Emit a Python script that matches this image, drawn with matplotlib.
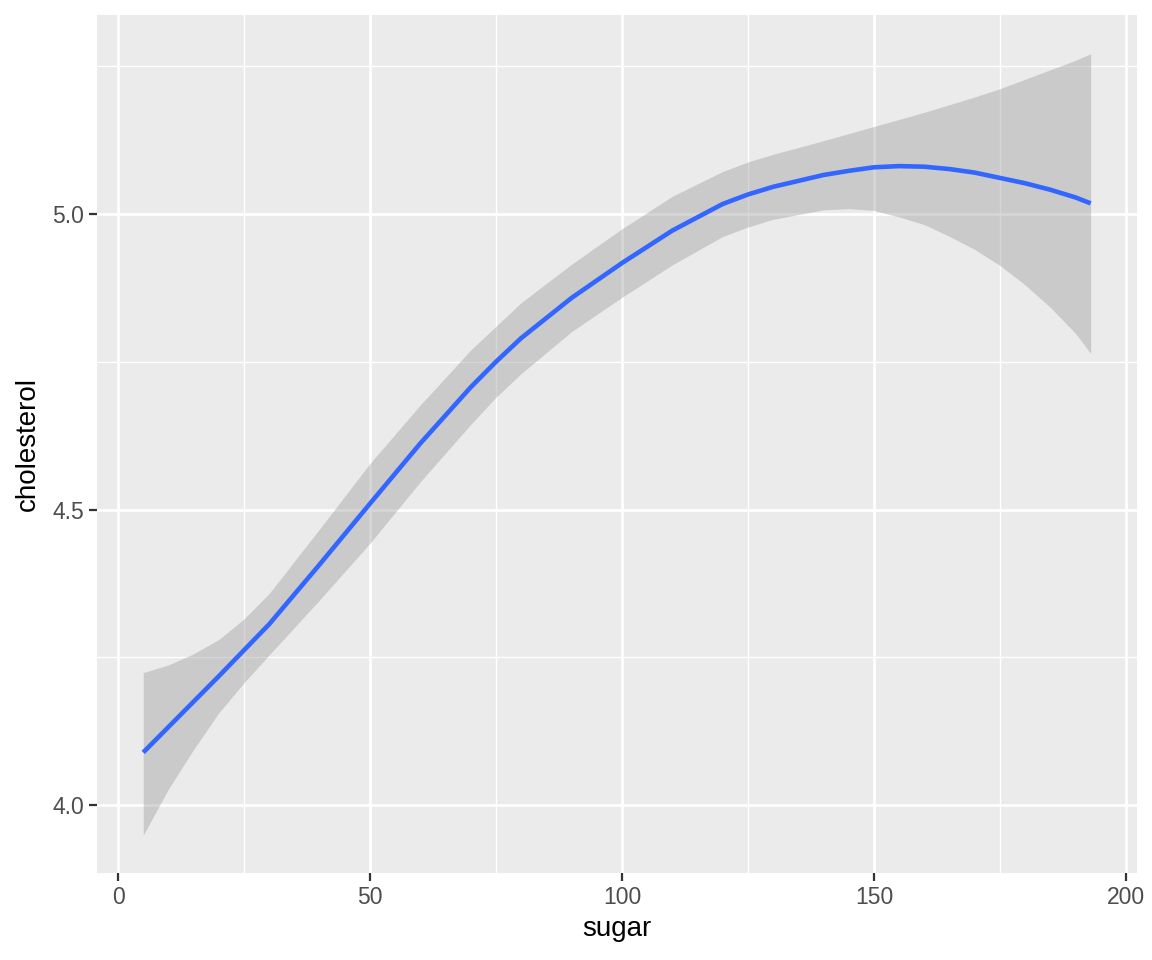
import matplotlib
matplotlib.use("Agg")
import matplotlib.pyplot as plt

plt.rcParams['font.family'] = ['Liberation Sans', 'DejaVu Sans']

# values (loess fit of cholesterol on sugar)
sugar = [5, 10, 15, 20, 25, 30, 40, 50, 60, 70, 75, 80, 90, 100, 110,
         120, 125, 130, 140, 145, 150, 155, 160, 165, 170, 175, 180, 185, 190, 193]
fit = [4.089, 4.132, 4.175, 4.218, 4.262, 4.306, 4.407, 4.510, 4.612, 4.707, 4.750, 4.790,
       4.858, 4.917, 4.972, 5.017, 5.033, 5.046, 5.066, 5.073, 5.079, 5.081, 5.080, 5.076,
       5.070, 5.061, 5.052, 5.041, 5.028, 5.018]
upper = [4.224, 4.237, 4.256, 4.280, 4.315, 4.358, 4.467, 4.578, 4.677, 4.770, 4.810, 4.850,
         4.915, 4.975, 5.030, 5.072, 5.088, 5.101, 5.124, 5.136, 5.148, 5.160, 5.172, 5.185,
         5.198, 5.212, 5.228, 5.244, 5.260, 5.271]
lower = [3.949, 4.027, 4.094, 4.156, 4.207, 4.254, 4.347, 4.443, 4.547, 4.644, 4.690, 4.730,
         4.801, 4.859, 4.914, 4.962, 4.978, 4.991, 5.007, 5.009, 5.006, 4.995, 4.982, 4.962,
         4.940, 4.913, 4.880, 4.842, 4.798, 4.764]

x_ticks = [0, 50, 100, 150, 200]
x_minor = [25, 75, 125, 175]
y_ticks = [4.0, 4.5, 5.0]
y_minor = [4.25, 4.75, 5.25]

fig = plt.figure(figsize=(11.52, 9.6), dpi=100)
ax = fig.add_axes([0.0842, 0.0906, 0.9028, 0.8938])
ax.set_facecolor('#EBEBEB')
for s in ax.spines.values():
    s.set_visible(False)

ax.set_xlim(-4.17, 202.2)
ax.set_ylim(3.885, 5.3367)
ax.set_xticks(x_ticks)
ax.set_xticks(x_minor, minor=True)
ax.set_yticks(y_ticks)
ax.set_yticks(y_minor, minor=True)
ax.set_yticklabels([f"{v:.1f}" for v in y_ticks])

ax.grid(which='major', color='white', linewidth=2.0)
ax.grid(which='minor', color='white', linewidth=1.0)
ax.set_axisbelow(True)

ax.tick_params(which='major', length=5.5, width=1.6, color='#333333',
               labelcolor='#4D4D4D', labelsize=16.5, pad=4)
ax.tick_params(which='minor', length=0)

ax.fill_between(sugar, lower, upper, color='#999999', alpha=0.4, linewidth=0, zorder=2)
ax.plot(sugar, fit, color='#3366FF', linewidth=3.3, zorder=3, solid_capstyle='butt')

ax.set_xlabel('sugar', fontsize=20, color='black', labelpad=5)
ax.set_ylabel('cholesterol', fontsize=20, color='black', labelpad=8)

fig.savefig('out.png', dpi=100, facecolor='white')
